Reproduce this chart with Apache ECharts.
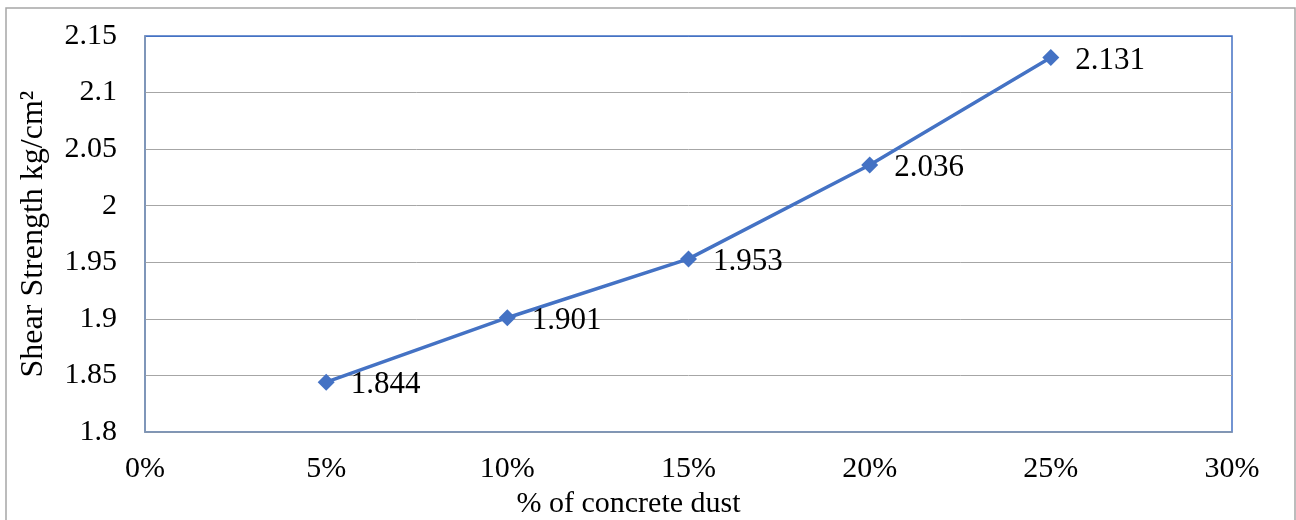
<!DOCTYPE html>
<html>
<head>
<meta charset="utf-8">
<script src="https://cdn.jsdelivr.net/npm/echarts@6/dist/echarts.min.js"></script>
<style>html,body{margin:0;padding:0;background:#fff;overflow:hidden}#c{width:1296px;height:520px}</style>
</head>
<body>
<div id="c"></div>
<script>
const xValues = [5, 10, 15, 20, 25];
const shearStrength = [1.844, 1.901, 1.953, 2.036, 2.131];
const xTitle = '% of concrete dust';
const yTitle = 'Shear Strength kg/cm²';

const FONT = '"Liberation Serif", "Times New Roman", serif';
const chart = echarts.init(document.getElementById('c'), null, {renderer: 'canvas'});
chart.setOption({
  animation: false,
  backgroundColor: '#fff',
  graphic: [{
    type: 'rect', shape: {x: 6, y: 8, width: 1289, height: 530},
    style: {fill: 'none', stroke: '#a6a6a6', lineWidth: 1.5}, silent: true, z: -10
  }],
  grid: {left: 145, top: 36, right: 64, bottom: 88, show: true, borderColor: '#4472C4', borderWidth: 1.5,
    containLabel: false, outerBoundsMode: 'none'},
  xAxis: {
    type: 'value', min: 0, max: 30, interval: 5,
    name: xTitle, nameLocation: 'middle', nameGap: 56,
    nameTextStyle: {fontFamily: FONT, fontSize: 30, color: '#000', padding: [0, 120, 0, 0]},
    axisLine: {show: true, onZero: false, lineStyle: {color: '#8497B0', width: 1.5}},
    axisTick: {show: false},
    splitLine: {show: false},
    axisLabel: {formatter: '{value}%', fontFamily: FONT, fontSize: 30, color: '#000', margin: 22}
  },
  yAxis: {
    type: 'value', min: 1.8, max: 2.15, interval: 0.05,
    name: yTitle, nameLocation: 'middle', nameGap: 95, nameRotate: 90,
    nameTextStyle: {fontFamily: FONT, fontSize: 32, color: '#000'},
    axisLine: {show: true, lineStyle: {color: '#8497B0', width: 1.5}},
    axisTick: {show: false},
    splitLine: {show: true, lineStyle: {color: ['#8497B0', '#a6a6a6', '#a6a6a6', '#a6a6a6', '#a6a6a6', '#a6a6a6', '#a6a6a6', '#4472C4'], width: 1}},
    axisLabel: {fontFamily: FONT, fontSize: 30, color: '#000', margin: 28,
      formatter: v => String(parseFloat(v.toFixed(2)))}
  },
  series: [{
    type: 'line',
    data: xValues.map((x, i) => [x, shearStrength[i]]),
    symbol: 'diamond', symbolSize: 17,
    lineStyle: {color: '#4472C4', width: 3.5},
    itemStyle: {color: '#4472C4'},
    label: {show: true, position: 'right', distance: 16, offset: [0, 3],
      fontFamily: FONT, fontSize: 31, color: '#000',
      formatter: p => p.value[1].toFixed(3)}
  }]
});
</script>
</body>
</html>
